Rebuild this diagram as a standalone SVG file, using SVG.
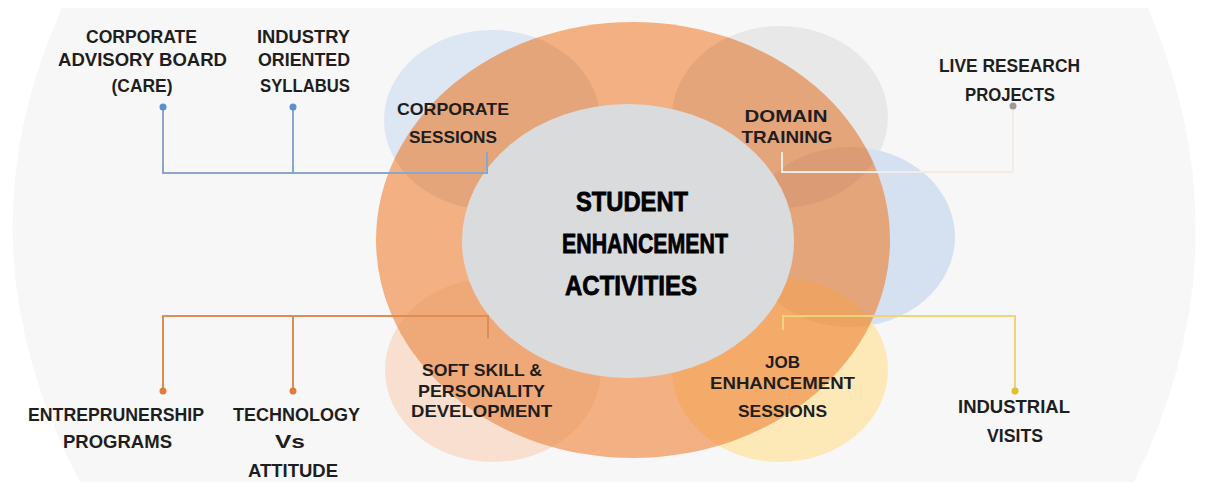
<svg xmlns="http://www.w3.org/2000/svg" width="1207" height="487" viewBox="0 0 1207 487">
<style>
.lbl{font-family:"Liberation Sans",Arial,sans-serif;font-weight:bold;font-size:18px;fill:#1e1e1e;text-anchor:middle}
.inl{font-family:"Liberation Sans",Arial,sans-serif;font-weight:bold;font-size:17px;fill:#1e1e1e;text-anchor:middle}
.ctr{font-family:"Liberation Sans",Arial,sans-serif;font-weight:bold;font-size:27px;fill:#000;stroke:#000;stroke-width:0.8;text-anchor:middle}
.con{fill:none;stroke-width:2}
.ov{fill:#b87a60;opacity:0.22}
</style>
<defs>
<clipPath id="ringclip"><ellipse cx="633" cy="240" rx="257" ry="218"/></clipPath>
<ellipse id="c-tl" cx="492" cy="120" rx="108" ry="90"/>
<ellipse id="c-tr" cx="780" cy="117" rx="108" ry="91"/>
<ellipse id="c-r" cx="850" cy="237" rx="105" ry="90"/>
<ellipse id="c-br" cx="780" cy="370" rx="108" ry="92"/>
<ellipse id="c-bl" cx="493" cy="370" rx="108" ry="92"/>
</defs>
<rect x="0" y="0" width="1207" height="487" fill="#ffffff"/>
<path id="bg" d="M62,8 L1148,8 Q1250,245 1134,482 L80,482 Q-45,245 62,8 Z" fill="#f7f7f7"/>
<g id="shapes">
<use href="#c-tl" fill="#dde6f3"/>
<use href="#c-tr" fill="#e8e8e8"/>
<use href="#c-r" fill="#d5e0f0"/>
<use href="#c-br" fill="#fde8b8"/>
<use href="#c-bl" fill="#f8dfcf"/>
<ellipse cx="633" cy="240" rx="257" ry="218" fill="#f3b183"/>
<g clip-path="url(#ringclip)">
<use href="#c-tl" class="ov"/>
<use href="#c-tr" class="ov"/>
<use href="#c-r" class="ov"/>
<use href="#c-bl" fill="#e08a50" opacity="0.2"/>
<use href="#c-br" fill="#f7a040" opacity="0.38"/>
</g>
</g>
<g id="node-corporate-sessions">
<text class="inl" x="453" y="115" textLength="112" lengthAdjust="spacingAndGlyphs">CORPORATE</text>
<text class="inl" x="453" y="143" textLength="88" lengthAdjust="spacingAndGlyphs">SESSIONS</text>
</g>
<g id="node-domain-training">
<text class="inl" x="786" y="122" textLength="83" lengthAdjust="spacingAndGlyphs">DOMAIN</text>
<text class="inl" x="787" y="143" textLength="91" lengthAdjust="spacingAndGlyphs">TRAINING</text>
</g>
<g id="node-job-enhancement">
<text class="inl" x="782.5" y="368" textLength="35" lengthAdjust="spacingAndGlyphs">JOB</text>
<text class="inl" x="782.5" y="389" textLength="145" lengthAdjust="spacingAndGlyphs">ENHANCEMENT</text>
<text class="inl" x="782.5" y="417" textLength="89" lengthAdjust="spacingAndGlyphs">SESSIONS</text>
</g>
<g id="node-soft-skill">
<text class="inl" x="482" y="376" textLength="120" lengthAdjust="spacingAndGlyphs">SOFT SKILL &amp;</text>
<text class="inl" x="481.5" y="397" textLength="127" lengthAdjust="spacingAndGlyphs">PERSONALITY</text>
<text class="inl" x="481.5" y="417" textLength="141" lengthAdjust="spacingAndGlyphs">DEVELOPMENT</text>
</g>
<g id="node-center">
<ellipse cx="628" cy="241" rx="166" ry="137" fill="#dadbdd"/>
<text class="ctr" x="632" y="211" textLength="112" lengthAdjust="spacingAndGlyphs">STUDENT</text>
<text class="ctr" x="645" y="253" textLength="166" lengthAdjust="spacingAndGlyphs">ENHANCEMENT</text>
<text class="ctr" x="631" y="295" textLength="132" lengthAdjust="spacingAndGlyphs">ACTIVITIES</text>
</g>
<g id="connectors">
<path class="con" stroke="#8aa6cc" d="M163,107 V173 H487 V152 M293,107 V173"/>
<path class="con" stroke="#f3ece6" d="M782,152 V172 H1013 V106"/>
<path class="con" stroke="#df8c55" d="M163,391 V316 H488 V338 M293,391 V316"/>
<path class="con" stroke="#f0d47a" d="M783,330 V316 H1015 V391"/>
<circle cx="163" cy="107" r="3.5" fill="#5b8fd0"/>
<circle cx="293" cy="107" r="3.5" fill="#5b8fd0"/>
<circle cx="1013" cy="106" r="3.5" fill="#9a9a9a"/>
<circle cx="163" cy="391" r="3.5" fill="#e07b3c"/>
<circle cx="293" cy="391" r="3.5" fill="#e07b3c"/>
<circle cx="1015" cy="391" r="3.5" fill="#e3c02a"/>
</g>
<g id="node-care">
<text class="lbl" x="141.5" y="43" textLength="111" lengthAdjust="spacingAndGlyphs">CORPORATE</text>
<text class="lbl" x="142.5" y="66" textLength="169" lengthAdjust="spacingAndGlyphs">ADVISORY BOARD</text>
<text class="lbl" x="142" y="92" textLength="61" lengthAdjust="spacingAndGlyphs">(CARE)</text>
</g>
<g id="node-syllabus">
<text class="lbl" x="303.5" y="43" textLength="93" lengthAdjust="spacingAndGlyphs">INDUSTRY</text>
<text class="lbl" x="304" y="66" textLength="92" lengthAdjust="spacingAndGlyphs">ORIENTED</text>
<text class="lbl" x="305" y="92" textLength="90" lengthAdjust="spacingAndGlyphs">SYLLABUS</text>
</g>
<g id="node-live-research">
<text class="lbl" x="1009.5" y="72" textLength="141" lengthAdjust="spacingAndGlyphs">LIVE RESEARCH</text>
<text class="lbl" x="1010" y="101" textLength="90" lengthAdjust="spacingAndGlyphs">PROJECTS</text>
</g>
<g id="node-entrepreneurship">
<text class="lbl" x="116" y="421" textLength="176" lengthAdjust="spacingAndGlyphs">ENTREPRUNERSHIP</text>
<text class="lbl" x="117.5" y="448" textLength="109" lengthAdjust="spacingAndGlyphs">PROGRAMS</text>
</g>
<g id="node-technology">
<text class="lbl" x="296.5" y="421" textLength="127" lengthAdjust="spacingAndGlyphs">TECHNOLOGY</text>
<text class="lbl" x="290" y="448" textLength="30" lengthAdjust="spacingAndGlyphs">Vs</text>
<text class="lbl" x="293" y="477" textLength="90" lengthAdjust="spacingAndGlyphs">ATTITUDE</text>
</g>
<g id="node-industrial">
<text class="lbl" x="1014" y="413" textLength="112" lengthAdjust="spacingAndGlyphs">INDUSTRIAL</text>
<text class="lbl" x="1015" y="442" textLength="56" lengthAdjust="spacingAndGlyphs">VISITS</text>
</g>
</svg>
